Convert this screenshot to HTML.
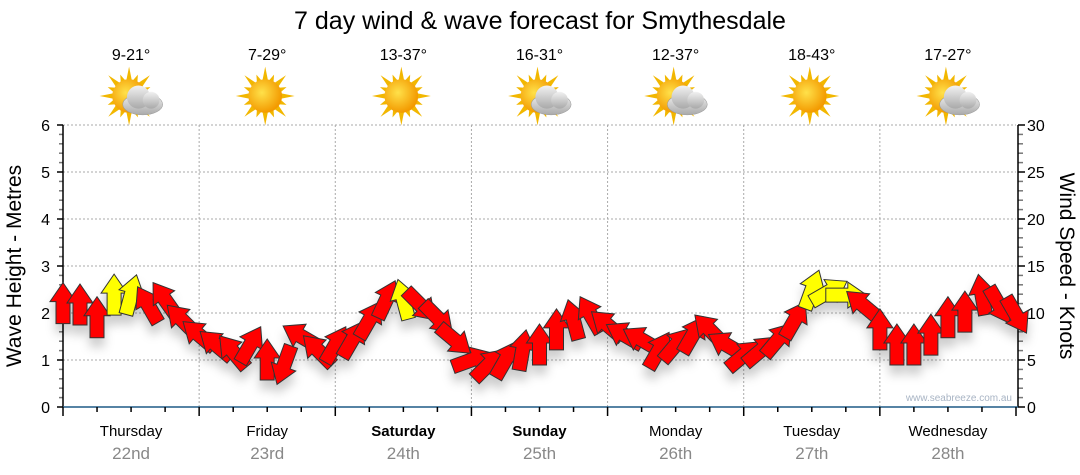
<!DOCTYPE html>
<html><head><meta charset="utf-8">
<style>
html,body{margin:0;padding:0;background:#fff;}
svg{display:block;font-family:"Liberation Sans",sans-serif;}
</style></head>
<body>
<svg id="chart" width="1080" height="475" viewBox="0 0 1080 475" xmlns="http://www.w3.org/2000/svg">
<defs>
<filter id="shadow" x="-50%" y="-50%" width="200%" height="200%">
<feDropShadow dx="0" dy="9" stdDeviation="5" flood-color="#000" flood-opacity="0.2"/>
</filter>
<radialGradient id="sunG" cx="0.4" cy="0.4" r="0.6">
<stop offset="0" stop-color="#ffe14a"/><stop offset="1" stop-color="#f39a00"/>
</radialGradient>
<linearGradient id="cloudG" x1="0" y1="0" x2="0" y2="1">
<stop offset="0" stop-color="#f2f2f2"/><stop offset="1" stop-color="#a9a9a9"/>
</linearGradient>
</defs>
<text x="540" y="29" font-size="25" text-anchor="middle" fill="#000">7 day wind &amp; wave forecast for Smythesdale</text>
<g id="grid"></g>
<g id="axes"></g>
<g id="days"></g>
<g id="wx"></g>
<g id="arrows" filter="url(#shadow)"></g>
<text transform="translate(21,266) rotate(-90)" font-size="21" text-anchor="middle">Wave Height - Metres</text>
<text transform="translate(1060,266) rotate(90)" font-size="21" text-anchor="middle">Wind Speed - Knots</text>
<text x="1012" y="401" font-size="10" text-anchor="end" fill="#a8b4c4">www.seabreeze.com.au</text>
</svg>
<script>
const dayNames = ["Thursday","Friday","Saturday","Sunday","Monday","Tuesday","Wednesday"];
const dayDates = ["22nd","23rd","24th","25th","26th","27th","28th"];
const boldDays = [false,false,true,true,false,false,false];
const tempRanges = ["9-21°","7-29°","13-37°","16-31°","12-37°","18-43°","17-27°"];
const wxCloudy = [true,false,false,true,true,false,true];
const leftTicks = [0,1,2,3,4,5,6];
const rightTicks = [0,5,10,15,20,25,30];
// wind series, one point every 3 hours from Thursday 00:00
const windHeight = [2.2,2.17,1.9,2.38,2.38,2.17,2.28,1.85,1.53,1.32,1.17,1.32,1.0,0.9,1.5,1.2,1.32,1.43,1.85,2.28,2.28,2.17,1.9,1.43,1.0,0.9,1.0,1.2,1.32,1.64,1.85,1.96,1.74,1.53,1.43,1.2,1.32,1.53,1.64,1.32,1.1,1.2,1.43,1.85,2.49,2.45,2.38,2.17,1.64,1.32,1.32,1.53,1.9,2.02,2.38,2.17,1.96];
const windDir = [0,0,0,0,15,-30,-35,-45,-50,-50,-40,30,0,200,-60,-45,30,30,30,25,-15,135,135,130,70,45,30,10,0,0,-15,-30,-50,-60,-60,30,40,30,-45,-60,50,50,40,30,20,60,90,-50,0,0,0,0,0,0,-10,150,150];
const windStrong = [0,0,0,1,1,0,0,0,0,0,0,0,0,0,0,0,0,0,0,0,1,0,0,0,0,0,0,0,0,0,0,0,0,0,0,0,0,0,0,0,0,0,0,0,1,1,1,0,0,0,0,0,0,0,0,0,0];

const NS="http://www.w3.org/2000/svg";
const X0=63, X1=1016, Y0=407, Y1=125, DAYW=(X1-X0)/7;
const yM = m => Y0-(Y0-Y1)*m/6;
const yK = k => Y0-(Y0-Y1)*k/30;
const xH = h => X0+(X1-X0)*h/168;
function mk(tag, attrs, parent){const e=document.createElementNS(NS,tag);for(const k in attrs)e.setAttribute(k,attrs[k]);parent.appendChild(e);return e;}
const grid=document.getElementById('grid'), axes=document.getElementById('axes');
leftTicks.forEach(v=>{ if(v>0){
  const g=mk('line',{x1:X0,x2:X1,y1:yM(v),y2:yM(v),stroke:'#aaa','stroke-dasharray':'2,2'},grid);
  
  
}
  const t=mk('text',{x:50,y:yM(v)+6,'font-size':16,'text-anchor':'end',fill:'#000'},axes); t.textContent=v;
  
  
});
for(let d=1;d<7;d++){
  const g=mk('line',{x1:X0+d*DAYW,x2:X0+d*DAYW,y1:Y1,y2:Y0,stroke:'#aaa','stroke-dasharray':'2,2'},grid);
  
  
}
for(let i=0;i<=30;i++){
  const y=Y0-(Y0-Y1)*i/30;
  mk('line',{x1:X0-(i%5==0?6:4),x2:X0,y1:y,y2:y,stroke:i%5==0?'#000':'#777','stroke-width':1.5},axes);
  mk('line',{x1:1018,x2:1018+(i%5==0?7:5),y1:y,y2:y,stroke:i%5==0?'#000':'#777','stroke-width':1.5},axes);
}
mk('line',{x1:X0,x2:X0,y1:Y1,y2:Y0,stroke:'#000','stroke-width':1.5},axes);
mk('line',{x1:1018,x2:1018,y1:Y1,y2:Y0,stroke:'#000','stroke-width':1.5},axes);
rightTicks.forEach(v=>{
  const t=mk('text',{x:1027,y:yK(v)+6,'font-size':16,fill:'#000'},axes); t.textContent=v;
  
  
});
const xa=mk('line',{x1:X0,x2:1018,y1:Y0,y2:Y0,stroke:'#1f5a85','stroke-width':1.5},axes);


for(let h=0;h<=168;h+=6){
  mk('line',{x1:xH(h),x2:xH(h),y1:Y0,y2:Y0+(h%24==0?9:5),stroke:'#000','stroke-width':1.5},axes);
}
const days=document.getElementById('days'), wx=document.getElementById('wx');
dayNames.forEach((n,d)=>{
  const cx=X0+(d+0.5)*DAYW;
  const t=mk('text',{x:cx,y:436,'font-size':15,'text-anchor':'middle','font-weight':boldDays[d]?'bold':'normal'},days); t.textContent=n;
  
  
  const s=mk('text',{x:cx,y:459,'font-size':17,'text-anchor':'middle',fill:'#888'},days); s.textContent=dayDates[d];
  
  
  const tt=mk('text',{x:cx,y:60,'font-size':16,'text-anchor':'middle',fill:'#000'},wx); tt.textContent=tempRanges[d];
  
  
  const g=mk('g',{transform:`translate(${cx-2},96) scale(1.05)`},wx);
  
  
  for(let r=0;r<16;r++){
    const a=r*22.5, L=r%2?22:28;
    mk('polygon',{points:`-3,-13 3,-13 0,-${L}`,fill:'#f2b700',transform:`rotate(${a})`},g);
  }
  mk('circle',{r:16,fill:'url(#sunG)'},g);
  if(wxCloudy[d]){
    const c=mk('g',{transform:'translate(13,5)'},g);
    mk('ellipse',{cx:0,cy:3,rx:19,ry:10,fill:'url(#cloudG)',stroke:'#999','stroke-width':0.5},c);
    mk('circle',{cx:-4,cy:-4,r:11,fill:'url(#cloudG)'},c);
    mk('circle',{cx:8,cy:-1,r:8,fill:'url(#cloudG)'},c);
  }
});
const arrows=document.getElementById('arrows');
windHeight.forEach((m,i)=>{
  const x=xH(i*3), y=yM(m);
  const p=mk('polygon',{points:'0,-21 13,-2 7,-2 7,20 -7,20 -7,-2 -13,-2',
    fill:windStrong[i]?'#ffff00':'#ff0000',stroke:'#333','stroke-width':1,
    transform:`translate(${x.toFixed(1)},${y.toFixed(1)}) rotate(${windDir[i]})`},arrows);
  
  
});
</script>
</body></html>
